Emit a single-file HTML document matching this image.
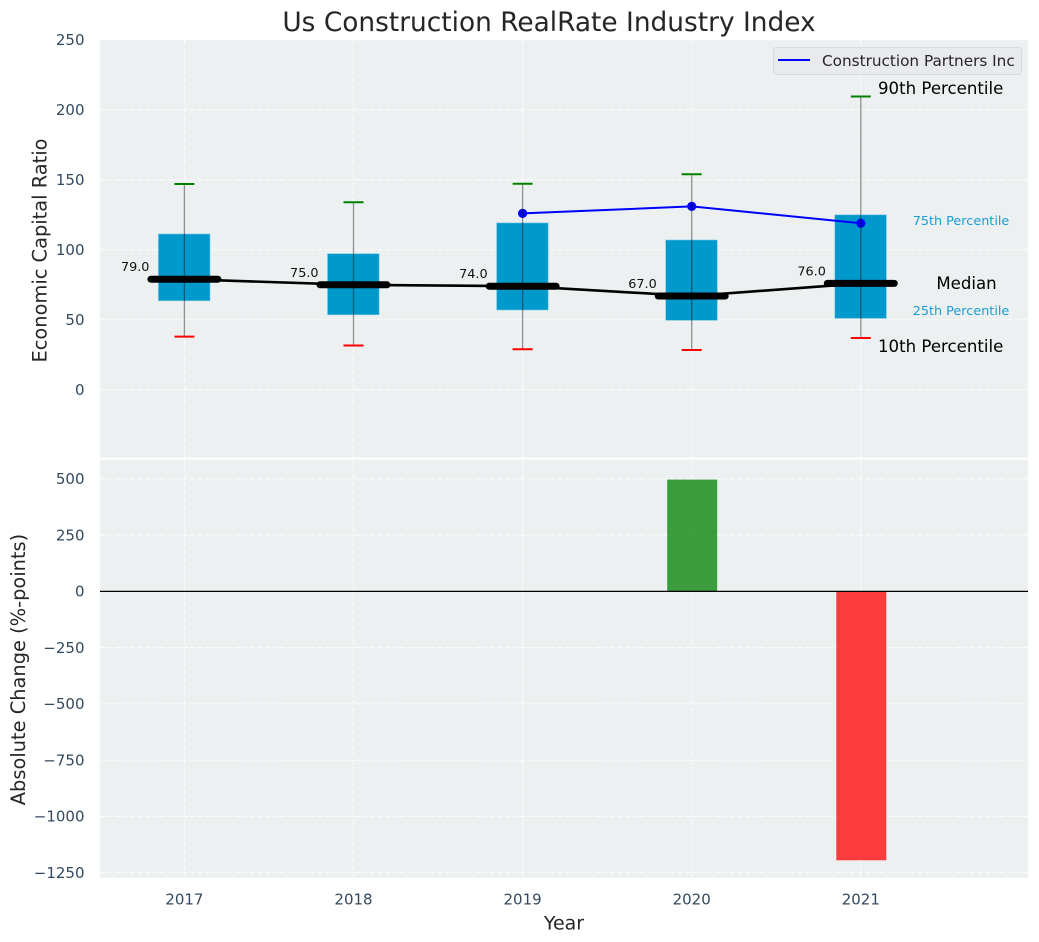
<!DOCTYPE html>
<html lang="en">
<head>
<meta charset="utf-8">
<title>Us Construction RealRate Industry Index</title>
<style>
html,body{margin:0;padding:0;background:#fff;width:1039px;height:942px;overflow:hidden}
svg{display:block}
text{font-family:"DejaVu Sans","Liberation Sans",sans-serif}
</style>
</head>
<body>
<svg id="chart" xmlns="http://www.w3.org/2000/svg" width="1039" height="942" viewBox="0 0 1039 942">
  <rect x="100" y="40" width="928" height="417.5" fill="#ecf0f1"/>
  <rect x="100" y="459.7" width="928" height="418" fill="#ecf0f1"/>
  <g id="grid"></g>
  <g id="ticks"></g>
  <g id="boxes"></g>
  <g id="bars"></g>
  <text x="549" y="31" text-anchor="middle" font-size="26.4" fill="#262626">Us Construction RealRate Industry Index</text>
  <text transform="translate(46.5,250.5) rotate(-90)" text-anchor="middle" font-size="19.4" fill="#262626">Economic Capital Ratio</text>
  <text transform="translate(24.8,669.5) rotate(-90)" text-anchor="middle" font-size="19.4" fill="#262626">Absolute Change (%-points)</text>
  <text x="564" y="929.5" text-anchor="middle" font-size="19" fill="#262626">Year</text>
  <g>
    <rect x="773.5" y="47.5" width="248" height="27" rx="3" fill="#e8eaee" stroke="#d8dade" stroke-width="1"/>
    <line x1="778" y1="60" x2="810" y2="60" stroke="#0000ff" stroke-width="2"/>
    <text x="822" y="66" font-size="15.25" fill="#262626">Construction Partners Inc</text>
  </g>
  <g>
    <text x="878" y="94" font-size="16.6" fill="#000">90th Percentile</text>
    <text x="961" y="225" text-anchor="middle" font-size="12.8" fill="#169fd3">75th Percentile</text>
    <text x="966.5" y="289" text-anchor="middle" font-size="16.6" fill="#000">Median</text>
    <text x="961" y="315" text-anchor="middle" font-size="12.8" fill="#169fd3">25th Percentile</text>
    <text x="878" y="352" font-size="16.6" fill="#000">10th Percentile</text>
  </g>
</svg>
<script>
// Chart data
const years = [2017, 2018, 2019, 2020, 2021];
const p90 = [147, 134, 147.2, 154, 209.5];
const p75 = [111.3, 97.2, 119.2, 107, 125];
const median = [79, 75, 74, 67, 76];
const p25 = [63.6, 53.6, 57, 49.6, 51];
const p10 = [38, 31.6, 29, 28.4, 37];
const company = [null, null, 126, 131, 119];
const change = [0, 0, 0, 497, -1195];
const topTicks = [0, 50, 100, 150, 200, 250];
const bottomTicks = [500, 250, 0, -250, -500, -750, -1000, -1250];

// Axis functions
const xOf = y => 184.4 + (y - 2017) * 169.1;
const yTop = v => 389.8 - v * 1.4;
const yBot = v => 591.4 - v * 0.225;

const NS = 'http://www.w3.org/2000/svg';
function mk(parent, tag, props, content) {
  const node = document.createElementNS(NS, tag);
  for (const k in props) node.setAttribute(k, props[k]);
  if (content !== undefined) node.textContent = content;
  parent.appendChild(node);
  return node;
}
const grid = document.getElementById('grid');
const ticks = document.getElementById('ticks');
const boxes = document.getElementById('boxes');
const bars = document.getElementById('bars');
const gridStyle = {stroke: '#ffffff', 'stroke-width': 1, 'stroke-opacity': 0.85, 'stroke-dasharray': '5 2.5'};

// Gridlines and tick labels
topTicks.forEach(v => {
  const el = mk(grid, 'line', {x1: 100, x2: 1028, y1: yTop(v), y2: yTop(v), ...gridStyle});
  
  
  const t = mk(ticks, 'text', {x: 84.5, y: yTop(v) + 5.3, 'text-anchor': 'end', 'font-size': 15, fill: '#34495e'}, String(v));
  
  
});
bottomTicks.forEach(v => {
  const el = mk(grid, 'line', {x1: 100, x2: 1028, y1: yBot(v), y2: yBot(v), ...gridStyle});
  
  
  const t = mk(ticks, 'text', {x: 84.5, y: yBot(v) + 5.3, 'text-anchor': 'end', 'font-size': 15, fill: '#34495e'}, String(v).replace('-', '\u2212'));
  
  
});
years.forEach(y => {
  const a = mk(grid, 'line', {x1: xOf(y), x2: xOf(y), y1: 40, y2: 457.5, ...gridStyle});
  
  
  const b = mk(grid, 'line', {x1: xOf(y), x2: xOf(y), y1: 459.7, y2: 877.7, ...gridStyle});
  
  
  const t = mk(ticks, 'text', {x: xOf(y), y: 904.5, 'text-anchor': 'middle', 'font-size': 15, fill: '#34495e'}, String(y));
  
  
});

// Interquartile boxes
years.forEach((y, i) => {
  const el = mk(boxes, 'rect', {x: xOf(y) - 26, y: yTop(p75[i]), width: 51.6, height: yTop(p25[i]) - yTop(p75[i]), fill: '#0099cc', stroke: '#7cc6e2', 'stroke-width': 0.6});
  
  
});

// Median trend line
const medianLine = mk(boxes, 'polyline', {points: years.map((y, i) => xOf(y) + ',' + yTop(median[i])).join(' '), fill: 'none', stroke: '#000', 'stroke-width': 2.6});



// Company series
const companyPts = years.map((y, i) => [y, company[i]]).filter(p => p[1] !== null);
const companyLine = mk(boxes, 'polyline', {points: companyPts.map(p => xOf(p[0]) + ',' + yTop(p[1])).join(' '), fill: 'none', stroke: '#0000ff', 'stroke-width': 2});


companyPts.forEach(p => {
  const el = mk(boxes, 'circle', {cx: xOf(p[0]), cy: yTop(p[1]), r: 4.6, fill: '#0000ff'});
  
  
});

// Whiskers, caps, median bars, labels
years.forEach((y, i) => {
  const x = xOf(y);
  const w = mk(boxes, 'line', {x1: x, x2: x, y1: yTop(p90[i]), y2: yTop(p10[i]), stroke: '#000', 'stroke-opacity': 0.42, 'stroke-width': 1.3});
  
  
  const c1 = mk(boxes, 'line', {x1: x - 10, x2: x + 10, y1: yTop(p90[i]), y2: yTop(p90[i]), stroke: '#008000', 'stroke-width': 2});
  
  
  const c2 = mk(boxes, 'line', {x1: x - 10, x2: x + 10, y1: yTop(p10[i]), y2: yTop(p10[i]), stroke: '#ff0000', 'stroke-width': 2});
  
  
  const m = mk(boxes, 'line', {x1: x - 33.5, x2: x + 33.5, y1: yTop(median[i]), y2: yTop(median[i]), stroke: '#000', 'stroke-width': 7, 'stroke-linecap': 'round'});
  
  
  const t = mk(boxes, 'text', {x: x - 49.2, y: yTop(median[i]) - 8, 'text-anchor': 'middle', 'font-size': 12.8, fill: '#111'}, median[i].toFixed(1));
  
  
});

// Change bars
years.forEach((y, i) => {
  if (change[i] === 0) return;
  const top = Math.min(yBot(change[i]), yBot(0));
  const h = Math.abs(yBot(change[i]) - yBot(0));
  const el = mk(bars, 'rect', {x: xOf(y) - 24.5, y: top, width: 50, height: h, fill: change[i] > 0 ? '#008000' : '#ff0000', 'fill-opacity': 0.75});
  
  
});
const zero = mk(bars, 'line', {x1: 100, x2: 1028, y1: yBot(0), y2: yBot(0), stroke: '#000', 'stroke-width': 1.2});


</script>
</body>
</html>
